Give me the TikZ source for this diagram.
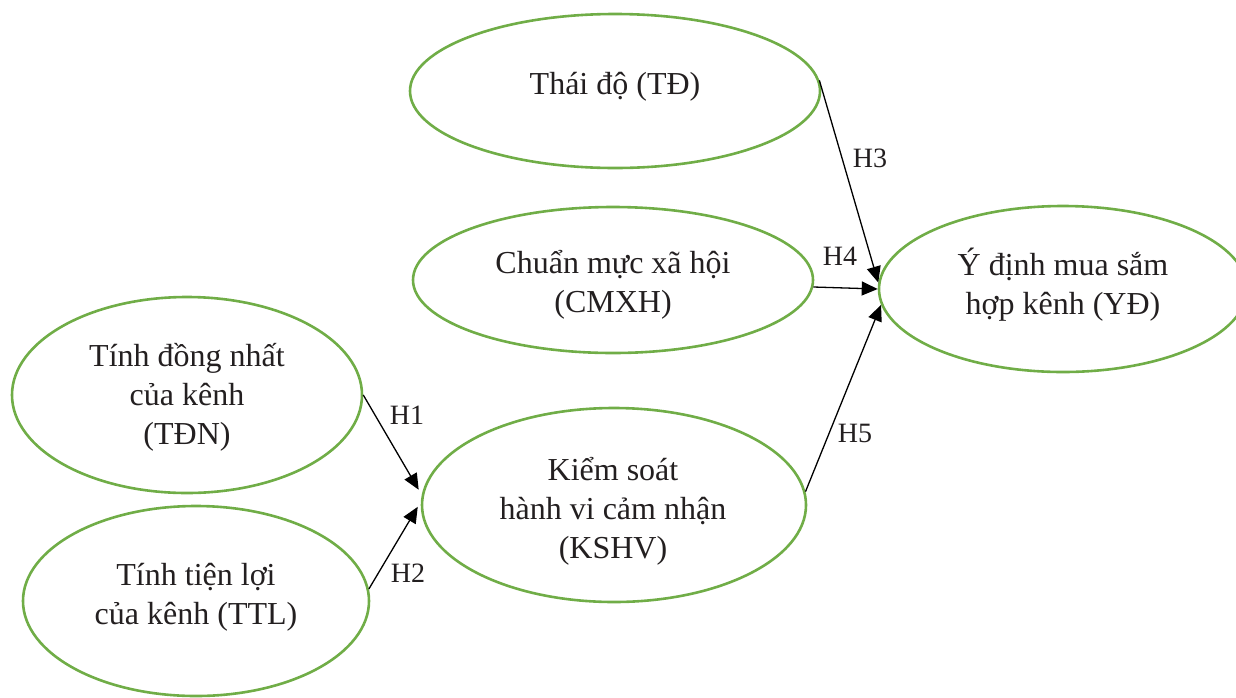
\documentclass[tikz,border=0pt]{standalone}
\usepackage{fontspec}
\setmainfont{Liberation Serif}
\usetikzlibrary{shapes.geometric,arrows.meta,positioning}
\definecolor{ovalgreen}{RGB}{112,173,71}
\definecolor{txtgray}{RGB}{35,31,32}

\begin{document}
\begin{tikzpicture}[x=0.5pt, y=-0.5pt,
    oval/.style={ellipse, draw=ovalgreen, line width=1.3pt, inner sep=0pt},
    txt/.style={align=center, text=txtgray, font=\fontsize{16}{19.5}\selectfont},
    hyp/.style={text=txtgray, font=\fontsize{14}{16}\selectfont},
    link/.style={line width=0.65pt, -{Triangle[length=8pt, width=7pt]}}]
    \clip (0,0) rectangle (1236,697);

    % Thai do
    \node[oval, minimum width=205pt, minimum height=77pt] (td) at (615,91) {};
    \node[txt] (tdtext) at (615,87) {Thái độ (TĐ)};

    % Chuan muc xa hoi
    \node[oval, minimum width=200pt, minimum height=73pt] (cm) at (613,280) {};
    \node[txt] (cmtext) at (613,285) {Chuẩn mực xã hội\\(CMXH)};

    % Y dinh
    \node[oval, minimum width=184pt, minimum height=83pt] (yd) at (1063,289) {};
    \node[txt] (ydtext) at (1063,285) {Ý định mua sắm\\hợp kênh (YĐ)};

    % Tinh dong nhat
    \node[oval, minimum width=175pt, minimum height=98pt] (tdn) at (187,395) {};
    \node[txt] (tdntext) at (187,397) {Tính đồng nhất\\của kênh\\(TĐN)};

    % Tinh tien loi
    \node[oval, minimum width=173pt, minimum height=95pt] (ttl) at (196,601) {};
    \node[txt] (ttltext) at (196,597) {Tính tiện lợi\\của kênh (TTL)};

    % Kiem soat hanh vi
    \node[oval, minimum width=192pt, minimum height=97pt] (ks) at (614,505) {};
    \node[txt] (kstext) at (613,511) {Kiểm soát\\hành vi cảm nhận\\(KSHV)};

    % Hypotheses
    \draw[link, shorten >=3pt] (tdn.0) -- (ks.177);
    \draw[link, shorten >=3pt] (ttl.4) -- (ks.179);
    \draw[link] (td.3) -- (yd.178);
    \draw[link] (cm.-2) -- (yd.180);
    \draw[link] (ks.4) -- (yd.185);

    \node[hyp] (h1) at (407,415) {H1};
    \node[hyp] (h2) at (408,573) {H2};
    \node[hyp] (h3) at (870,158) {H3};
    \node[hyp] (h4) at (840,256) {H4};
    \node[hyp] (h5) at (855,433) {H5};
\end{tikzpicture}
\end{document}
